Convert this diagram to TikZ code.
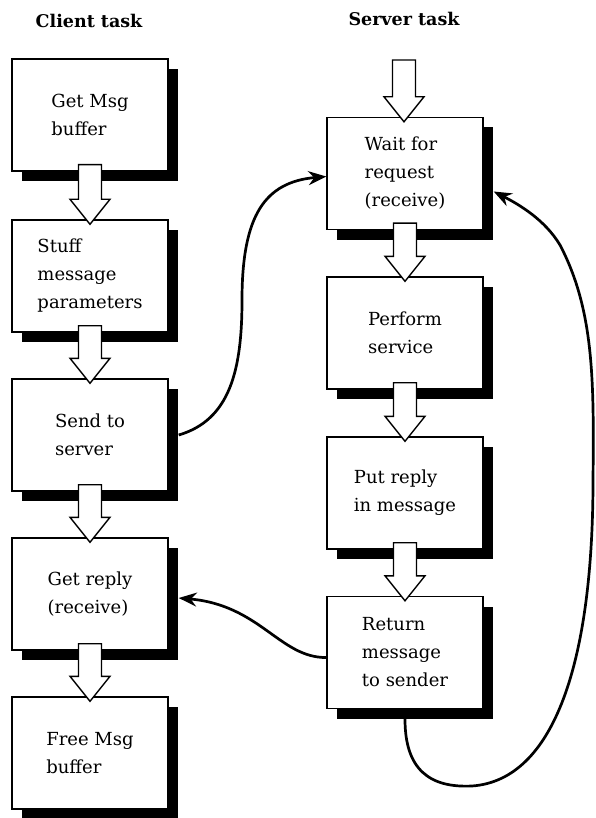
\documentclass[tikz,border=0pt]{standalone}
\usepackage{fontspec}
\setmainfont{DejaVu Serif}
\usetikzlibrary{calc,shadows,arrows.meta}
\tikzset{
  taskbox/.style={draw, line width=1.4pt, fill=white, minimum width=156pt, minimum height=112pt,
    align=left, inner sep=0pt, font=\fontsize{18}{28}\selectfont,
    drop shadow={shadow xshift=10pt, shadow yshift=-10pt, fill=black, opacity=1}},
  title/.style={font=\fontsize{17.5}{22}\selectfont\bfseries},
  blockarrow/.style={draw, line width=1.4pt, fill=white, line join=miter},
  curvearrow/.style={line width=2.7pt, -{Stealth[length=18pt, width=14pt, inset=6pt]}}
}
\newcommand\blk[3]{%
  \path[blockarrow] let \p1=(#2), \p2=(#3.north) in
    (\x1-11.5pt,\y1+#1) -- (\x1-11.5pt,\y2+20pt) -- (\x1-20pt,\y2+20pt) -- (\x1,\y2-5pt)
    -- (\x1+20pt,\y2+20pt) -- (\x1+11.5pt,\y2+20pt) -- (\x1+11.5pt,\y1+#1) -- cycle;}
\begin{document}
\begin{tikzpicture}[x=1pt,y=-1pt]
\useasboundingbox (0,0) rectangle (595,818);
\node[title] (ct) at (89,21) {Client task};
\node[title] (st) at (404,19) {Server task};

\node[taskbox] (c1) at (90,115) {Get Msg\\buffer};
\node[taskbox] (c2) at (90,276) {Stuff\\message\\parameters};
\node[taskbox] (c3) at (90,435) {Send to\\server};
\node[taskbox] (c4) at (90,594) {Get reply\\(receive)};
\node[taskbox] (c5) at (90,753) {Free Msg\\buffer};

\node[taskbox] (s1) at (405,173.5) {Wait for\\request\\(receive)};
\node[taskbox] (s2) at (405,333) {Perform\\service};
\node[taskbox] (s3) at (405,493) {Put reply\\in message};
\node[taskbox] (s4) at (405,652.5) {Return\\message\\to sender};

\coordinate (stop) at (404,60);

\blk{7pt}{c1.south}{c2}
\blk{7pt}{c2.south}{c3}
\blk{7pt}{c3.south}{c4}
\blk{7pt}{c4.south}{c5}
\blk{0pt}{stop}{s1}
\blk{7pt}{s1.south}{s2}
\blk{7pt}{s2.south}{s3}
\blk{7pt}{s3.south}{s4}

\draw[curvearrow] ($(c3.east)+(10pt,0)$) .. controls (230,420) and (242,370) .. (242,300)
  .. controls (242,215) and (265,182) .. ($(s1.west)+(0,-3pt)$);
\draw[curvearrow] ($(s4.west)+(0,-5pt)$) .. controls (280,658) and (260,605) .. ($(c4.east)+(10pt,-4pt)$);
\draw[curvearrow] ($(s4.south)+(0,-10pt)$) .. controls (405,770) and (430,788) .. (472,786)
  .. controls (555,780) and (593,660) .. (593,480)
  .. controls (594,380) and (594,310) .. (560,245)
  .. controls (545,220) and (520,205) .. ($(s1.east)+(10pt,-18pt)$);
\end{tikzpicture}
\end{document}
